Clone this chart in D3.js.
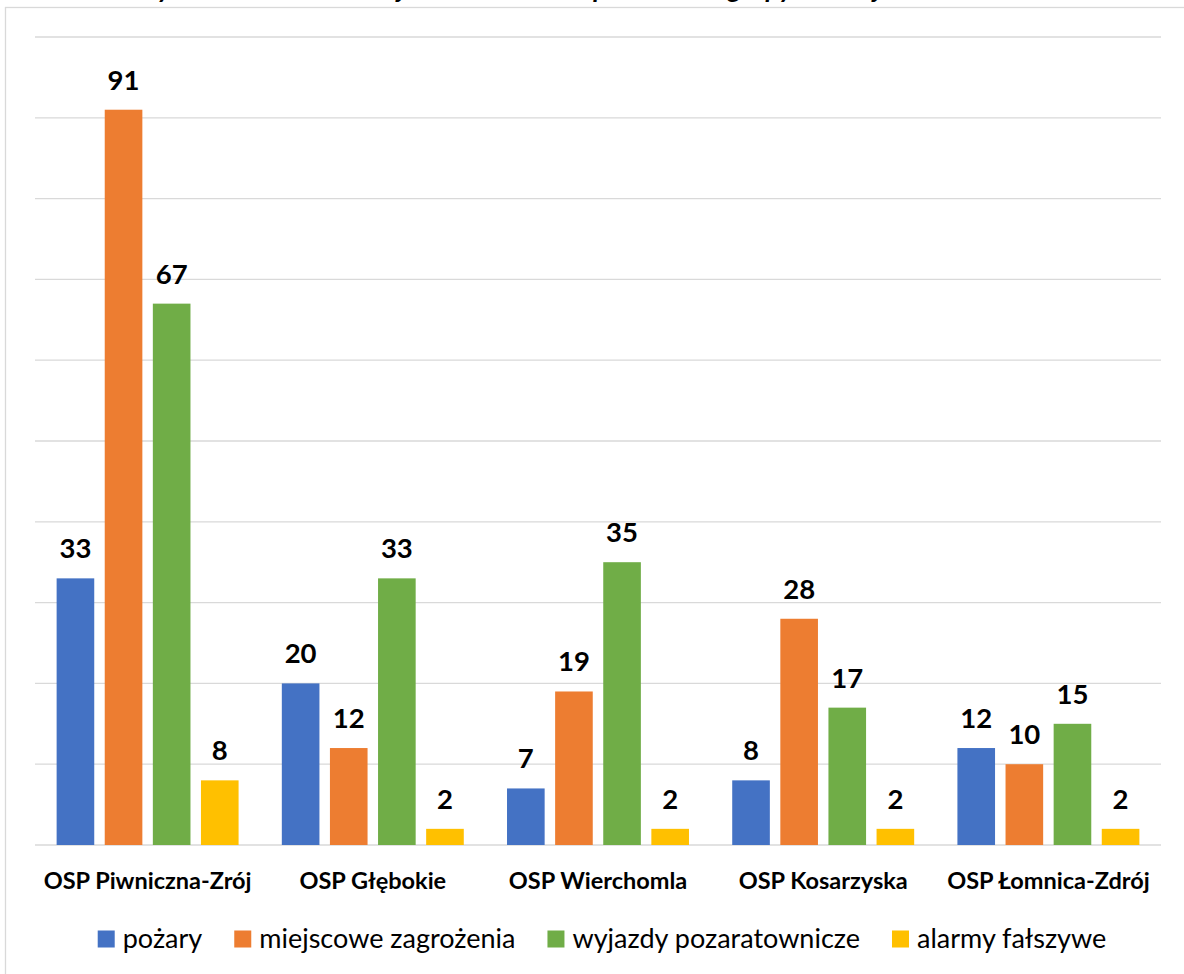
<!DOCTYPE html>
<html>
<head>
<meta charset="utf-8">
<script src="https://cdn.jsdelivr.net/npm/d3@7"></script>
<style>
  html, body { margin: 0; padding: 0; background: #ffffff; }
  svg { display: block; }
</style>
</head>
<body>
<svg id="chart" width="1184" height="974"></svg>
<script>
// ---- data ----
const categories = ["OSP Piwniczna-Zrój", "OSP Głębokie", "OSP Wierchomla", "OSP Kosarzyska", "OSP Łomnica-Zdrój"];
const seriesNames = ["pożary", "miejscowe zagrożenia", "wyjazdy pozaratownicze", "alarmy fałszywe"];
const pozary = [33, 20, 7, 8, 12];
const miejscowe = [91, 12, 19, 28, 10];
const wyjazdy = [67, 33, 35, 17, 15];
const alarmy = [8, 2, 2, 2, 2];
const seriesValues = [pozary, miejscowe, wyjazdy, alarmy];
const yTicks = [0, 10, 20, 30, 40, 50, 60, 70, 80, 90, 100];
const titleText = "Zestawienie liczby zdarzeń z udziałem jednostek OSP w podziale na grupy i rodzaj";

// ---- style ----
const colors = ["#4472C4", "#ED7D31", "#70AD47", "#FFC000"];
const FONT = "Lato, 'Open Sans', 'DejaVu Sans', sans-serif";

const svg = d3.select("#chart");
const W = 1184, H = 974;
const plot = { left: 35, right: 1161, top: 37, bottom: 845 };

// title (clipped at the top edge, as in the reference: only descenders visible)
const title = svg.append("text")
  .attr("x", 0).attr("y", -2)
  .attr("font-family", FONT).attr("font-style", "italic").attr("font-weight", "bold")
  .attr("font-size", 22).attr("fill", "#000")
  .text(titleText);
(function fitTitle() {
  const node = title.node();
  const iY = titleText.indexOf("y");
  const iJ = titleText.lastIndexOf("j");
  const p1 = node.getStartPositionOfChar(iY).x;
  const p2 = node.getStartPositionOfChar(iJ).x;
  const fs = 22 * (876 - 160) / (p2 - p1);
  title.attr("font-size", fs);
  const q1 = node.getStartPositionOfChar(iY).x;
  title.attr("x", 158 - q1);
})();

// chart frame
svg.append("rect")
  .attr("x", 5.5).attr("y", 7.5).attr("width", W + 20).attr("height", H + 20)
  .attr("fill", "none").attr("stroke", "#d9d9d9").attr("stroke-width", 1.3);

const y = d3.scaleLinear().domain([0, 100]).range([plot.bottom, plot.top]);
const x0 = d3.scaleBand().domain(categories).range([plot.left, plot.right]).padding(0);
const x1 = d3.scaleBand().domain(seriesNames)
  .range([x0.bandwidth() * 0.096, x0.bandwidth() * 0.904])
  .paddingInner(0.218).paddingOuter(0);

// gridlines
svg.append("g").selectAll("line").data(yTicks).join("line")
  .attr("x1", plot.left).attr("x2", plot.right)
  .attr("y1", d => y(d)).attr("y2", d => y(d))
  .attr("stroke", "#d9d9d9").attr("stroke-width", 1.3);

// bars
const groups = svg.append("g").selectAll("g").data(categories).join("g")
  .attr("transform", d => `translate(${x0(d)},0)`);

groups.each(function(cat, ci) {
  const g = d3.select(this);
  seriesNames.forEach((s, si) => {
    const v = seriesValues[si][ci];
    g.append("rect")
      .attr("x", x1(s)).attr("width", x1.bandwidth())
      .attr("y", y(v)).attr("height", y(0) - y(v))
      .attr("fill", colors[si]);
    g.append("text")
      .attr("x", x1(s) + x1.bandwidth() / 2)
      .attr("y", y(v) - 20)
      .attr("text-anchor", "middle")
      .attr("font-family", FONT).attr("font-weight", "bold")
      .attr("font-size", 27.5).attr("fill", "#000")
      .text(v);
  });
});

// x-axis labels
const xAxis = d3.axisBottom(x0).tickSize(0).tickPadding(0);
const xg = svg.append("g").attr("transform", `translate(0,${plot.bottom})`).call(xAxis);
xg.select(".domain").remove();
xg.selectAll("text")
  .attr("y", 44).attr("dy", 0)
  .attr("font-family", FONT).attr("font-weight", "bold")
  .attr("font-size", 23.5).attr("fill", "#000");

// legend
const legend = svg.append("g");
const items = legend.selectAll("g").data(seriesNames).join("g");
items.append("rect").attr("width", 17).attr("height", 17).attr("y", -8.5)
  .attr("fill", (d, i) => colors[i]);
items.append("text").attr("x", 25).attr("y", 9)
  .attr("font-family", FONT).attr("font-size", 27).attr("fill", "#000")
  .text(d => d);
let widths = [];
items.each(function() { widths.push(17 + 8 + d3.select(this).select("text").node().getComputedTextLength()); });
const gap = 32;
const total = d3.sum(widths) + gap * (widths.length - 1);
let cx = 602 - total / 2;
items.each(function(d, i) {
  d3.select(this).attr("transform", `translate(${cx},939)`);
  cx += widths[i] + gap;
});
</script>
</body>
</html>
